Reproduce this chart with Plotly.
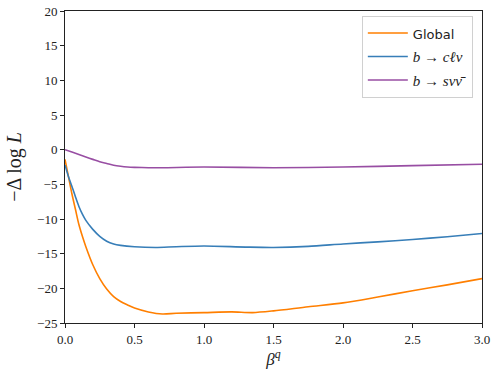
import plotly.graph_objects as go

# values
beta_global = [0.0, 0.025, 0.05, 0.075, 0.1, 0.125, 0.15, 0.2, 0.25, 0.3, 0.35,
               0.4, 0.45, 0.5, 0.6, 0.7, 0.8, 1.0, 1.2, 1.35, 1.5, 1.75, 2.0,
               2.25, 2.5, 2.75, 3.0]
dll_global = [-1.4, -3.9, -6.4, -8.6, -10.8, -12.5, -14.0, -16.6, -18.6, -20.1, -21.2,
              -21.9, -22.4, -22.85, -23.4, -23.7, -23.6, -23.5, -23.4, -23.5, -23.25,
              -22.65, -22.1, -21.25, -20.35, -19.5, -18.6]

beta_bclnu = [0.0, 0.025, 0.05, 0.075, 0.1, 0.125, 0.15, 0.2, 0.25, 0.3, 0.35,
              0.4, 0.5, 0.65, 0.8, 1.0, 1.3, 1.5, 1.75, 2.0, 2.25, 2.5, 2.75, 3.0]
dll_bclnu = [-2.2, -3.9, -5.3, -6.8, -8.2, -9.3, -10.2, -11.5, -12.5, -13.2, -13.6,
             -13.8, -14.0, -14.1, -14.0, -13.9, -14.05, -14.1, -13.95, -13.6, -13.3,
             -12.95, -12.55, -12.1]

beta_bsnunu = [0.0, 0.05, 0.1, 0.15, 0.2, 0.25, 0.3, 0.35, 0.4, 0.45, 0.5, 0.6,
               0.7, 1.0, 1.5, 2.0, 2.5, 3.0]
dll_bsnunu = [0.0, -0.35, -0.7, -1.05, -1.4, -1.75, -2.0, -2.25, -2.4, -2.5, -2.55,
              -2.6, -2.6, -2.5, -2.6, -2.5, -2.3, -2.1]

x_ticks = [0.0, 0.5, 1.0, 1.5, 2.0, 2.5, 3.0]
y_ticks = [-25, -20, -15, -10, -5, 0, 5, 10, 15, 20]

serif = "Liberation Serif"

series = [
    ("<span style='font-family:DejaVu Sans;font-size:13px'>Global</span>",
     beta_global, dll_global, "#ff7f00"),
    ("<i>b</i> → <i>cℓν</i>", beta_bclnu, dll_bclnu, "#377eb8"),
    ("<i>b</i> → <i>sνν̄</i>", beta_bsnunu, dll_bsnunu, "#984ea3"),
]

fig = go.Figure()
for i, (name, xs, ys, col) in enumerate(series):
    fig.add_trace(go.Scatter(
        x=xs, y=ys, mode="lines", name=name, legendgroup=str(i),
        line=dict(color=col, width=1.6, shape="spline", smoothing=0.8),
    ))

axis_common = dict(
    showgrid=False, zeroline=False, showline=True, mirror=True,
    linecolor="#222222", linewidth=1, ticks="outside", ticklen=4,
    tickwidth=1, tickcolor="#222222", automargin=False,
    ticklabeloverflow="allow",
    tickfont=dict(family=serif, size=13, color="#222222"),
)

fig.update_layout(
    width=498, height=374,
    margin=dict(l=64.5, r=16, t=11, b=51.3),
    paper_bgcolor="white", plot_bgcolor="white",
    showlegend=True,
    legend=dict(
        x=0.978, y=0.985, xanchor="right", yanchor="top",
        bgcolor="rgba(255,255,255,0.8)", bordercolor="#d0d0d0", borderwidth=1,
        font=dict(family=serif, size=15, color="#222222"),
        traceorder="grouped", tracegroupgap=1, itemwidth=40,
    ),
    xaxis=dict(range=[0, 3.0], tickvals=x_ticks, tickformat=".1f",
               title=dict(text="<i>β</i><sup><i>q</i></sup>", standoff=0,
                          font=dict(family=serif, size=17, color="#222222")),
               **axis_common),
    yaxis=dict(range=[-25, 20], tickvals=y_ticks,
               title=dict(text="−Δ log <i>L</i>", standoff=10,
                          font=dict(family=serif, size=20, color="#222222")),
               **axis_common),
)

# drop the default body margin so the figure fills the window exactly
fig.write_html("out.html", config={"displayModeBar": False},
               post_script="document.body.style.margin='0';"
                           "document.body.style.overflow='hidden';")
